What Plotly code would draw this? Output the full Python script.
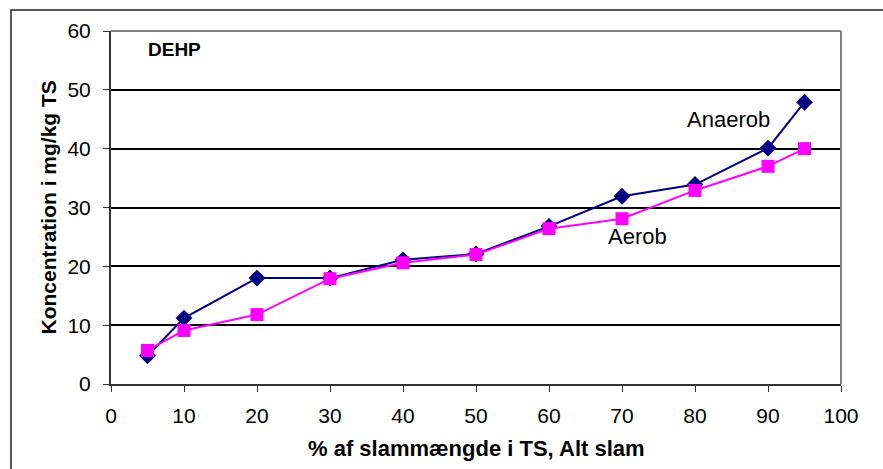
import plotly.graph_objects as go

x_vals = [5, 10, 20, 30, 40, 50, 60, 70, 80, 90, 95]
anaerob = [4.8, 11.2, 18, 18, 21.1, 22.1, 26.8, 31.9, 33.9, 40.1, 47.9]
aerob = [5.7, 9.1, 11.8, 17.9, 20.6, 22.0, 26.4, 28.1, 32.9, 37.0, 40.0]
x_ticks = [0, 10, 20, 30, 40, 50, 60, 70, 80, 90, 100]
y_ticks = [0, 10, 20, 30, 40, 50, 60]

fig = go.Figure()
fig.add_trace(go.Scatter(x=x_vals, y=anaerob, mode="lines+markers", name="Anaerob",
                         line=dict(color="#000080", width=2),
                         marker=dict(symbol="diamond", size=13, color="#000080")))
fig.add_trace(go.Scatter(x=x_vals, y=aerob, mode="lines+markers", name="Aerob",
                         line=dict(color="#FF00FF", width=2),
                         marker=dict(symbol="square", size=13, color="#FF00FF")))

font = "Liberation Sans, Arial, sans-serif"
fig.update_layout(
    width=883, height=469,
    margin=dict(l=111, r=42, t=31, b=85),
    paper_bgcolor="white", plot_bgcolor="white",
    showlegend=False,
    font=dict(family=font, color="black", size=21),
    xaxis=dict(range=[0, 100], tickvals=x_ticks, showgrid=False, zeroline=False,
               showline=True, linecolor="#333333", linewidth=2, mirror=False,
               ticks="outside", ticklen=6, tickcolor="#333333", tickwidth=1,
               tickfont=dict(size=21), ticklabelstandoff=6),
    yaxis=dict(range=[0, 60], tickvals=y_ticks, showgrid=True, gridcolor="black", gridwidth=2,
               zeroline=False, showline=True, linecolor="#333333", linewidth=2,
               ticks="outside", ticklen=6, tickcolor="#333333", tickwidth=1,
               tickfont=dict(size=21), ticklabelstandoff=8),
)

# plot area border (gray) top and right
fig.add_shape(type="line", xref="paper", yref="paper", x0=0, x1=1, y0=1, y1=1,
              line=dict(color="#808080", width=2))
fig.add_shape(type="line", xref="paper", yref="paper", x0=1, x1=1, y0=0, y1=1,
              line=dict(color="#808080", width=2))
# outer chart border
fig.add_shape(type="rect", xref="paper", yref="paper", x0=-0.137, x1=1.2, y0=-0.4, y1=1.0595,
              line=dict(color="#222222", width=1.5), layer="below")

# axis titles
fig.add_annotation(x=0.5, y=-0.184, xref="paper", yref="paper",
                   text="<b>% af slammængde i TS, Alt slam</b>", showarrow=False,
                   xanchor="center", yanchor="middle", font=dict(size=22))
fig.add_annotation(x=-0.0863, y=0.5, xref="paper", yref="paper",
                   text="<b>Koncentration i mg/kg TS</b>", showarrow=False, textangle=-90,
                   xanchor="center", yanchor="middle", font=dict(size=21))

fig.add_annotation(x=4.8, y=56.8, xref="x", yref="y", text="<b>DEHP</b>", showarrow=False,
                   xanchor="left", yanchor="middle", font=dict(size=19))
fig.add_annotation(x=84.6, y=44.9, xref="x", yref="y", text="Anaerob", showarrow=False,
                   xanchor="center", yanchor="middle", font=dict(size=22))
fig.add_annotation(x=72.1, y=25.0, xref="x", yref="y", text="Aerob", showarrow=False,
                   xanchor="center", yanchor="middle", font=dict(size=22))

fig.write_html("out.html")
